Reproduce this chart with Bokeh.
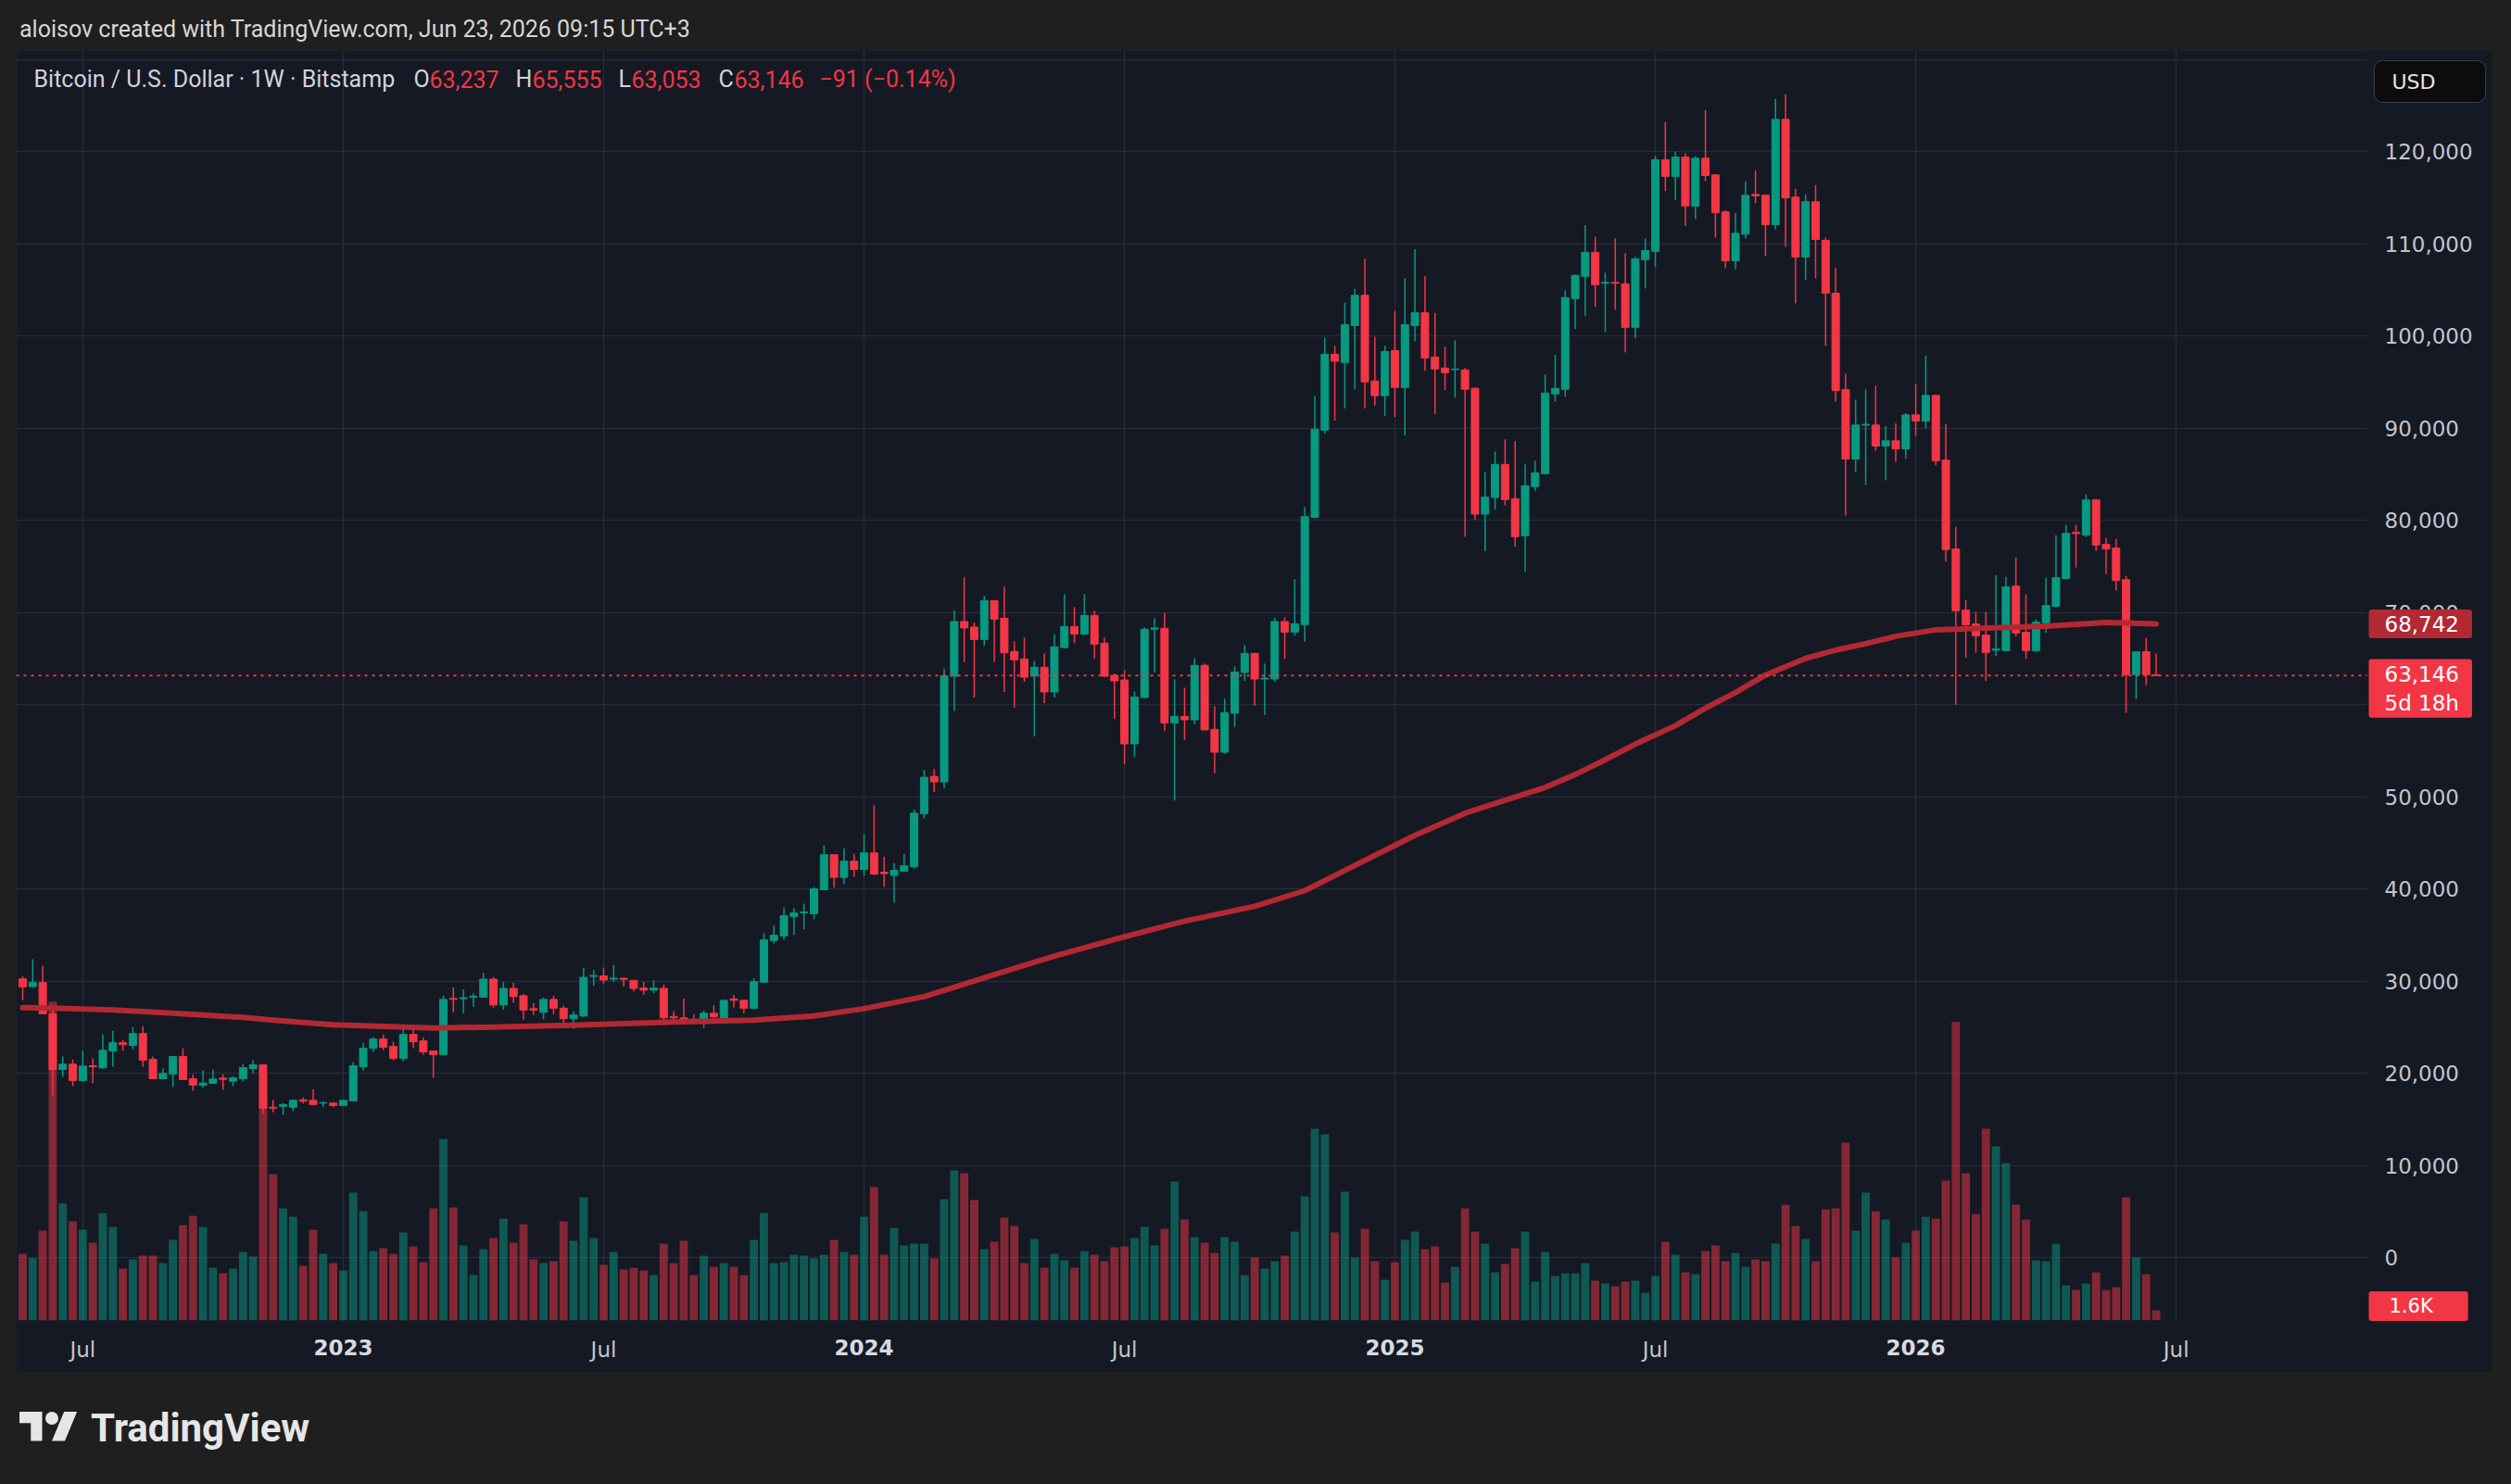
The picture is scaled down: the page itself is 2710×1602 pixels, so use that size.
from bokeh.plotting import figure
from bokeh.models import (ColumnDataSource, Range1d, FixedTicker, NumeralTickFormatter,
                          Label, Div, Spacer, GlobalInlineStyleSheet, BoxAnnotation, LinearAxis)
from bokeh.layouts import column, row
from bokeh.embed import file_html
from bokeh.resources import INLINE

# ---------------- data (BTC/USD weekly, Bitstamp; prices in thousands USD) ----------------
week_start = "2022-05-23"   # Monday of bar 0, one bar per week

open_k = [30.23, 29.40, 29.83, 26.44, 20.40, 20.97, 19.20, 20.80, 20.57, 22.40,
          23.30, 23.00, 24.30, 21.50, 19.40, 19.90, 21.80, 19.40, 18.70, 18.90,
          19.46, 19.13, 19.40, 20.50, 20.90, 16.30, 16.40, 16.30, 17.10, 17.05,
          16.75, 16.75, 16.50, 17.00, 20.70, 22.70, 23.70, 22.90, 21.60, 24.20,
          23.50, 22.40, 22.00, 28.10, 28.09, 28.25, 28.25, 30.20, 27.40, 29.20,
          28.40, 27.00, 26.60, 28.00, 27.05, 25.90, 26.20, 30.50, 30.55, 30.20,
          30.30, 30.07, 29.23, 29.00, 29.20, 26.15, 26.00, 25.85, 25.75, 26.50,
          26.00, 28.05, 27.90, 27.05, 29.87, 34.40, 34.87, 37.00, 37.40, 37.30,
          39.90, 43.70, 41.24, 43.00, 42.10, 43.90, 41.80, 41.45, 41.90, 42.40,
          48.15, 52.20, 51.60, 63.07, 69.00, 68.40, 67.05, 71.27, 69.36, 65.75,
          64.94, 63.07, 64.04, 61.36, 66.18, 68.46, 67.65, 69.66, 66.65, 63.17,
          62.66, 55.73, 60.75, 68.16, 68.26, 58.00, 58.70, 58.34, 64.24, 57.30,
          54.82, 59.05, 63.47, 65.54, 62.76, 62.76, 69.00, 67.85, 68.66, 80.30,
          89.77, 98.00, 97.10, 101.10, 104.40, 95.10, 93.50, 98.40, 94.40, 101.10,
          102.50, 97.70, 96.50, 96.33, 96.30, 94.30, 80.65, 82.46, 86.05, 82.33,
          78.30, 83.64, 85.04, 93.70, 94.19, 104.04, 106.45, 109.06, 105.70, 105.80,
          105.64, 100.92, 108.26, 109.16, 119.10, 117.30, 119.40, 114.07, 119.26, 117.45,
          113.43, 108.14, 111.02, 115.34, 115.24, 112.06, 123.48, 115.04, 108.54, 114.54,
          110.35, 104.62, 94.17, 86.63, 90.30, 90.32, 88.04, 88.61, 87.74, 91.42,
          90.75, 93.53, 86.50, 76.87, 70.24, 68.73, 67.53, 65.89, 65.85, 72.85,
          67.83, 65.85, 68.86, 70.64, 73.65, 78.67, 78.37, 82.19, 77.37, 76.97,
          73.55, 63.24, 65.72, 63.237]

high_k = [30.54, 32.35, 31.64, 26.90, 21.80, 21.48, 22.40, 21.60, 24.20, 24.60,
          23.60, 25.00, 25.10, 21.80, 20.50, 21.85, 22.70, 19.87, 20.30, 20.37,
          19.87, 19.66, 20.97, 21.40, 20.97, 17.10, 16.75, 17.15, 17.35, 18.25,
          16.95, 16.85, 17.10, 21.20, 23.30, 23.90, 24.20, 23.40, 25.20, 25.20,
          23.90, 22.45, 28.40, 29.30, 29.10, 28.70, 30.90, 30.44, 29.90, 29.80,
          28.60, 27.60, 28.20, 28.40, 27.30, 26.70, 31.40, 31.20, 31.45, 31.75,
          30.35, 30.10, 29.90, 30.10, 29.60, 26.70, 28.10, 26.40, 26.80, 27.40,
          28.00, 28.50, 28.00, 30.30, 35.20, 36.00, 38.00, 37.90, 38.40, 40.20,
          44.70, 43.75, 44.40, 43.80, 45.90, 49.06, 43.50, 42.80, 43.80, 48.60,
          52.90, 53.00, 63.90, 70.20, 73.80, 68.90, 71.78, 71.30, 72.80, 66.85,
          67.25, 64.74, 65.54, 67.65, 71.98, 70.57, 71.98, 70.17, 67.25, 63.37,
          63.74, 61.42, 68.36, 69.36, 69.96, 62.73, 61.83, 65.04, 64.44, 59.82,
          60.62, 64.14, 66.45, 65.64, 64.44, 69.36, 69.46, 73.58, 81.40, 93.50,
          99.80, 98.90, 103.60, 105.10, 108.36, 99.90, 98.90, 102.70, 106.25, 109.40,
          106.45, 102.50, 98.80, 99.50, 96.50, 94.40, 85.20, 87.45, 88.76, 88.56,
          86.05, 86.45, 95.80, 97.90, 104.94, 106.65, 111.98, 110.77, 106.85, 110.57,
          108.96, 108.56, 110.57, 119.50, 123.20, 120.00, 119.80, 119.50, 124.49, 117.55,
          113.63, 113.33, 116.75, 117.96, 115.34, 125.70, 126.20, 115.95, 115.34, 116.35,
          110.65, 107.40, 95.88, 93.07, 94.17, 94.57, 90.22, 90.52, 91.62, 94.74,
          97.86, 93.60, 90.42, 79.28, 71.34, 70.04, 70.04, 74.05, 73.85, 75.96,
          71.94, 69.23, 73.75, 78.37, 79.48, 79.48, 82.79, 82.29, 78.07, 77.97,
          73.95, 65.75, 67.22, 65.555]

low_k = [27.92, 29.26, 26.40, 17.60, 19.60, 18.60, 19.05, 18.90, 20.50, 20.70,
         22.40, 22.60, 20.70, 19.35, 19.35, 18.50, 19.25, 18.10, 18.40, 18.85,
         18.20, 18.60, 19.10, 19.97, 15.60, 15.75, 15.44, 15.90, 16.70, 16.55,
         16.30, 16.30, 16.45, 16.95, 20.30, 22.30, 22.50, 21.40, 21.30, 22.70,
         22.00, 19.50, 21.90, 26.60, 26.50, 27.20, 28.20, 27.10, 26.90, 27.65,
         25.80, 26.30, 25.85, 26.40, 25.40, 24.80, 26.10, 29.50, 29.70, 29.90,
         29.40, 28.86, 28.50, 28.66, 25.20, 25.80, 25.30, 25.40, 24.90, 26.00,
         25.90, 27.10, 26.50, 26.90, 29.80, 34.06, 34.46, 35.00, 35.60, 36.70,
         39.90, 40.13, 40.50, 41.30, 41.40, 41.50, 40.20, 38.50, 41.80, 42.20,
         47.65, 50.50, 50.90, 59.30, 64.60, 60.75, 66.40, 64.60, 61.36, 59.65,
         62.46, 56.53, 60.15, 60.75, 66.08, 66.65, 67.55, 64.94, 63.00, 58.44,
         53.52, 54.32, 60.65, 63.47, 57.14, 49.56, 56.13, 57.84, 57.20, 52.51,
         54.62, 57.54, 62.56, 59.85, 58.84, 62.46, 64.94, 67.45, 66.80, 80.20,
         89.40, 90.80, 92.10, 94.20, 92.10, 92.40, 91.30, 91.20, 89.20, 99.40,
         96.20, 91.50, 94.10, 93.30, 78.20, 80.05, 76.60, 81.15, 81.60, 77.10,
         74.40, 83.13, 85.00, 92.88, 93.38, 100.72, 102.13, 103.13, 100.42, 102.83,
         98.20, 99.72, 105.14, 107.45, 115.70, 114.70, 111.90, 112.66, 116.78, 110.65,
         107.34, 107.24, 110.55, 114.37, 108.64, 111.56, 109.65, 103.52, 106.03, 106.23,
         98.89, 92.86, 80.50, 85.23, 83.82, 87.54, 84.32, 86.33, 86.63, 89.15,
         89.95, 85.93, 75.49, 59.93, 65.05, 65.62, 62.54, 65.25, 65.80, 67.36,
         64.95, 65.65, 67.76, 70.54, 73.60, 74.86, 78.17, 76.67, 74.15, 72.35,
         59.09, 60.60, 62.10, 63.053]

close_k = [29.36, 29.83, 26.44, 20.40, 20.97, 19.20, 20.77, 20.70, 22.48, 23.30,
           23.10, 24.30, 21.40, 19.40, 19.97, 21.80, 19.30, 18.70, 18.93, 19.36,
           19.33, 19.50, 20.60, 20.90, 16.20, 16.20, 16.60, 17.05, 16.95, 16.60,
           16.80, 16.50, 17.05, 20.80, 22.70, 23.70, 22.80, 21.60, 24.20, 23.40,
           22.30, 22.00, 28.00, 28.00, 28.19, 28.35, 30.20, 27.40, 29.20, 28.30,
           26.85, 26.85, 28.00, 27.05, 25.90, 26.30, 30.40, 30.60, 30.10, 30.30,
           30.17, 29.20, 29.00, 29.23, 26.00, 26.00, 25.80, 25.75, 26.50, 26.10,
           27.90, 27.90, 27.05, 29.93, 34.46, 34.97, 37.08, 37.40, 37.50, 40.00,
           43.70, 41.24, 43.00, 42.10, 43.90, 41.60, 41.65, 42.00, 42.50, 48.20,
           52.10, 51.60, 63.10, 69.00, 68.30, 67.05, 71.27, 69.26, 65.60, 64.84,
           62.96, 64.04, 61.36, 66.25, 68.46, 67.65, 69.66, 66.55, 63.07, 62.56,
           55.73, 60.82, 68.16, 68.30, 58.00, 58.70, 58.34, 64.24, 57.24, 54.82,
           59.11, 63.53, 65.54, 62.76, 62.86, 69.00, 67.85, 68.76, 80.38, 89.87,
           98.00, 97.24, 101.20, 104.40, 95.00, 93.50, 98.30, 94.40, 101.20, 102.50,
           97.60, 96.40, 96.00, 96.40, 94.20, 80.65, 82.50, 86.05, 82.23, 78.20,
           83.74, 85.14, 93.79, 94.29, 104.14, 106.55, 109.06, 105.54, 105.80, 105.70,
           100.92, 108.36, 109.26, 119.10, 117.30, 119.40, 114.10, 119.26, 117.39, 113.37,
           108.14, 111.12, 115.24, 115.18, 112.06, 123.48, 114.97, 108.54, 114.54, 110.45,
           104.62, 94.07, 86.63, 90.32, 90.40, 88.04, 88.61, 87.74, 91.42, 90.75,
           93.53, 86.43, 76.80, 70.17, 68.66, 67.46, 65.65, 66.02, 72.75, 67.76,
           65.85, 68.93, 70.74, 73.75, 78.57, 78.54, 82.19, 77.30, 76.87, 73.45,
           63.24, 65.72, 63.237, 63.146]

# weekly volume, thousands of BTC
vol_k = [10.75, 10.05, 14.5, 51.6, 18.9, 16.0, 14.65, 12.55, 17.35, 15.1,
         8.35, 9.85, 10.45, 10.45, 9.25, 13.0, 15.4, 16.9, 15.1, 8.5,
         7.6, 8.35, 11.05, 10.3, 36.7, 23.65, 18.1, 16.75, 8.8, 14.65,
         10.75, 9.25, 8.05, 20.65, 17.65, 11.2, 11.65, 10.75, 14.2, 11.95,
         9.4, 18.1, 29.35, 18.25, 12.1, 7.3, 11.5, 13.3, 16.45, 12.55,
         15.55, 9.85, 9.25, 9.55, 16.0, 12.85, 19.9, 13.3, 8.95, 11.05,
         8.2, 8.5, 8.05, 7.3, 12.4, 9.25, 12.85, 7.3, 10.45, 8.65,
         9.25, 8.65, 7.3, 13.0, 17.35, 9.25, 9.4, 10.6, 10.45, 10.0,
         10.6, 13.0, 11.05, 10.6, 16.75, 21.55, 10.6, 14.95, 12.1, 12.4,
         12.4, 10.0, 19.6, 24.25, 23.8, 19.45, 11.5, 12.7, 16.6, 15.25,
         9.25, 13.15, 8.5, 10.75, 9.7, 8.5, 11.2, 10.6, 9.55, 11.8,
         11.95, 13.3, 15.1, 12.1, 14.8, 22.45, 16.3, 13.45, 12.55, 10.9,
         13.45, 12.7, 7.3, 10.15, 8.35, 9.55, 10.45, 14.35, 20.05, 31.0,
         30.1, 14.2, 20.8, 10.15, 14.8, 9.55, 6.55, 9.4, 13.0, 14.35,
         11.5, 11.95, 6.1, 8.65, 18.1, 14.35, 12.4, 7.75, 9.1, 11.65,
         14.35, 6.25, 11.05, 7.15, 7.6, 7.6, 9.25, 6.4, 5.95, 5.5,
         6.25, 6.4, 4.45, 7.15, 12.7, 10.6, 7.75, 7.45, 11.2, 12.1,
         9.55, 10.9, 8.65, 9.85, 9.55, 12.4, 18.7, 15.25, 13.15, 9.55,
         17.95, 18.1, 28.75, 14.5, 20.65, 17.65, 16.3, 10.15, 12.55, 14.5,
         16.75, 16.45, 22.6, 48.3, 23.8, 17.2, 31.0, 28.15, 25.45, 18.7,
         16.3, 9.7, 9.55, 12.4, 5.65, 4.9, 5.95, 7.75, 4.9, 5.35,
         19.9, 10.15, 7.45, 1.6]

# moving average (bar index, thousands USD)
ma_bar = [0, 3, 9, 15, 22, 25, 31, 38, 41, 47, 55, 65, 73, 79, 84, 90, 97, 103, 110, 116,
          123, 128, 132, 139, 144, 148, 152, 155, 158, 161, 165, 168, 171, 174, 178, 181,
          184, 187, 191, 196, 202, 208, 213]
ma_k = [27.1, 27.05, 26.85, 26.5, 26.05, 25.75, 25.25, 25.0, 24.9, 25.0, 25.2, 25.55, 25.75,
        26.2, 27.0, 28.3, 30.7, 32.7, 34.8, 36.5, 38.1, 39.8, 42.0, 45.8, 48.2, 49.6, 51.0,
        52.4, 54.0, 55.7, 57.7, 59.6, 61.3, 63.2, 65.0, 65.9, 66.6, 67.4, 68.1, 68.3, 68.5,
        68.9, 68.742]

month_ticks = [6, 58, 110, 163, 215]
month_labels = ["Jul", "Jul", "Jul", "Jul", "Jul"]
year_ticks = [32, 84, 137, 189]
year_labels = ["2023", "2024", "2025", "2026"]
price_ticks = list(range(0, 130000, 10000))
grid_ticks = list(range(0, 140000, 10000))
volume_label = "1.6K"
countdown = "5d 18h"

# ---------------- styling ----------------
UP, DOWN = "#089981", "#f23645"
BG, GRID = "#151924", "#272b37"
TXT, AXT = "#d1d4dc", "#c3c5cb"
MA_COL = "#b22833"

# page-pixel calibration of the reference layout
FR_L, AX_L, FR_R, FR_T, FR_B, PANEL_B = 17, 2554, 2689, 54, 1426, 1481
BAR0_PX, BAR_PX = 24.0, 10.81
PRICE0_PY, PX_PER_USD = 1357.0, 0.00995
VOL0_PY, VOLK_PER_PX = 1424.7, 0.15

def xd(px):
    return (px - BAR0_PX) / BAR_PX

def yd(py):
    return (PRICE0_PY - py) / PX_PER_USD

def vd(py):
    return (VOL0_PY - py) * VOLK_PER_PX

n = len(close_k)
xs = list(range(n))
O = [v * 1000 for v in open_k]
H = [v * 1000 for v in high_k]
L = [v * 1000 for v in low_k]
C = [v * 1000 for v in close_k]
up = [c >= o for o, c in zip(O, C)]
src = ColumnDataSource(dict(
    x=xs, o=O, h=H, l=L, c=C,
    top=[max(o, c) for o, c in zip(O, C)],
    bot=[min(o, c) for o, c in zip(O, C)],
    col=[UP if u else DOWN for u in up],
    vol=vol_k,
))

p = figure(width=FR_R - FR_L, height=PANEL_B - FR_T,
           x_range=Range1d(xd(FR_L), xd(FR_R)), y_range=Range1d(yd(PANEL_B), yd(FR_T)),
           y_axis_location="right", output_backend="svg", toolbar_location=None,
           title=None, min_border_left=0, min_border_top=0,
           min_border_right=0, min_border_bottom=0)
p.extra_y_ranges = {"vol": Range1d(vd(PANEL_B), vd(FR_T))}
p.background_fill_color = BG
p.border_fill_color = BG
p.outline_line_color = None
p.styles = {"outline": "1px solid #2c2f38", "outline-offset": "-1px"}

p.xgrid.ticker = FixedTicker(ticks=sorted(month_ticks + year_ticks))
p.ygrid.ticker = FixedTicker(ticks=grid_ticks)
p.grid.grid_line_color = GRID
p.grid.grid_line_width = 1.5

# price-scale column and time-scale strip: no grid there
p.add_layout(BoxAnnotation(left=xd(AX_L), fill_color=BG, fill_alpha=1.0, line_color=None,
                           level="underlay"))
p.add_layout(BoxAnnotation(top=yd(FR_B), fill_color=BG, fill_alpha=1.0, line_color=None,
                           level="underlay"))

# candles
p.segment(x0="x", y0="l", x1="x", y1="h", line_color="col", line_width=1.5, source=src)
p.vbar(x="x", width=0.74, top="top", bottom="bot", fill_color="col", line_color="col",
       line_width=1, source=src)
# volume overlay
p.vbar(x="x", width=0.82, top="vol", bottom=0, fill_color="col", fill_alpha=0.5,
       line_color=None, y_range_name="vol", source=src)
# moving average
p.line(ma_bar, [v * 1000 for v in ma_k], line_color=MA_COL, line_width=6,
       line_join="round", line_cap="round")
# current price line (dotted, across the pane only)
p.segment(x0=[xd(FR_L)], x1=[xd(AX_L)], y0=[C[-1]], y1=[C[-1]], line_color=DOWN,
          line_width=2, line_dash="3 5")

# price axis, drawn at the left edge of the price-scale column
yax = p.yaxis[0]
yax.fixed_location = xd(AX_L)
yax.ticker = FixedTicker(ticks=price_ticks)
yax.formatter = NumeralTickFormatter(format="0,0")
yax.axis_line_color = None
yax.major_tick_line_color = None
yax.minor_tick_line_color = None
yax.major_tick_out = 0
yax.major_tick_in = 0
yax.major_label_standoff = 19
yax.major_label_text_font = "DejaVu Sans"
yax.major_label_text_font_size = "23px"
yax.major_label_text_color = AXT

# time axis: months (regular) and years (bold), both drawn at the pane bottom
xax = p.xaxis[0]
xax.fixed_location = yd(FR_B)
xax.ticker = FixedTicker(ticks=month_ticks)
xax.major_label_overrides = {t: s for t, s in zip(month_ticks, month_labels)}
xax.axis_line_color = None
xax.major_tick_line_color = None
xax.minor_tick_line_color = None
xax.major_tick_out = 0
xax.major_tick_in = 0
xax.major_label_standoff = 17
xax.major_label_text_font = "DejaVu Sans"
xax.major_label_text_font_size = "23px"
xax.major_label_text_color = AXT

yr_ax = LinearAxis(fixed_location=yd(FR_B), ticker=FixedTicker(ticks=year_ticks),
                   major_label_overrides={t: s for t, s in zip(year_ticks, year_labels)},
                   axis_line_color=None, major_tick_line_color=None, minor_tick_line_color=None,
                   major_tick_out=0, major_tick_in=0, major_label_standoff=19,
                   major_label_text_font="DejaVu Sans", major_label_text_font_size="23px",
                   major_label_text_font_style="bold", major_label_text_color="#d8dae0")
p.add_layout(yr_ax, "below")


def make_label(**kw):
    try:
        return Label(**kw)
    except Exception:
        kw.pop("border_radius", None)
        if isinstance(kw.get("padding"), dict):
            kw["padding"] = kw["padding"]["left"]
        try:
            return Label(**kw)
        except Exception:
            kw.pop("padding", None)
            return Label(**kw)


# legend line inside the pane
chg = C[-1] - C[-2]
pct = chg / C[-2] * 100
def fmt(v):
    return f"{v:,.0f}"
def sgn(s):
    return s.replace("-", "\u2212")
legend = [
    ("Bitcoin / U.S. Dollar \u00b7 1W \u00b7 Bitstamp", 36, TXT),
    ("O", 446, TXT), (fmt(O[-1]), 463, DOWN),
    ("H", 556, TXT), (fmt(H[-1]), 574, DOWN),
    ("L", 667, TXT), (fmt(L[-1]), 681, DOWN),
    ("C", 775, TXT), (fmt(C[-1]), 792, DOWN),
    (sgn(f"{chg:,.0f} ({pct:.2f}%)"), 884, DOWN),
]
for txt, px, col in legend:
    p.add_layout(Label(x=xd(px), y=yd(85), text=txt, text_color=col, text_font="Roboto",
                       text_font_size="25px", text_align="left", text_baseline="middle"))

# price-scale boxes (x is the left edge of each box)
BOX_L = 2556
p.add_layout(make_label(x=xd(BOX_L), y=ma_k[-1] * 1000, text=fmt(ma_k[-1] * 1000),
                        text_color="#ffffff", text_font="DejaVu Sans", text_font_size="23px",
                        text_align="left", text_baseline="middle",
                        background_fill_color=MA_COL,
                        padding=dict(left=17, right=14, top=7, bottom=7), border_radius=3))
p.add_layout(make_label(x=xd(BOX_L), y=yd(742.6), text=fmt(C[-1]) + "\n" + countdown,
                        text_color="#ffffff", text_font="DejaVu Sans", text_font_size="23px",
                        text_align="left", text_baseline="middle", text_line_height=1.2,
                        background_fill_color=DOWN,
                        padding=dict(left=17, right=14, top=3, bottom=3), border_radius=3))
p.add_layout(make_label(x=xd(BOX_L), y=yd(1409.5), text=volume_label,
                        text_color="#ffffff", text_font="DejaVu Sans", text_font_size="21px",
                        text_align="left", text_baseline="middle",
                        background_fill_color=DOWN,
                        padding=dict(left=22, right=38, top=4, bottom=4), border_radius=3))
p.add_layout(make_label(x=xd(2562), y=yd(87.5), text="USD",
                        text_color="#e6e6e6", text_font="DejaVu Sans", text_font_size="22px",
                        text_align="left", text_baseline="middle",
                        background_fill_color="#0c0c0c", border_line_color="#3a3d45",
                        border_line_width=1,
                        padding=dict(left=19, right=54, top=10, bottom=10), border_radius=9))

# ---------------- page furniture ----------------
top_html = ('<div style="position:relative;width:2710px;height:54px;">'
            '<span style="position:absolute;left:21px;top:19px;font-family:Roboto;'
            'font-size:25px;line-height:25px;color:#d6d6d6;white-space:nowrap;">'
            'aloisov created with TradingView.com, Jun 23, 2026 09:15 UTC+3</span></div>')
bot_html = ('<div style="position:relative;width:2710px;height:121px;">'
            '<svg style="position:absolute;left:21px;top:36px" width="63" height="49" '
            'viewBox="0 0 36 28"><path fill="#e6e6e6" d="M14 22H7V11H0V4h14v18zM28 22h-8l7.5-18h8L28 22z"/>'
            '<circle fill="#e6e6e6" cx="20" cy="8" r="4"/></svg>'
            '<span style="position:absolute;left:98px;top:40px;font-family:Roboto;font-weight:700;'
            'font-size:42px;line-height:42px;color:#e6e6e6;white-space:nowrap;">TradingView</span></div>')

top = Div(text=top_html, width=2710, height=FR_T, margin=0)
bot = Div(text=bot_html, width=2710, height=1602 - PANEL_B, margin=0)
mid = row(Spacer(width=FR_L, height=PANEL_B - FR_T, margin=0), p, spacing=0, margin=0)
root = column(top, mid, bot, spacing=0, margin=0)
root.stylesheets = [GlobalInlineStyleSheet(
    css="html, body { background-color: #1f1f1f !important; margin: 0 !important; }")]

open("out.html", "w").write(file_html(root, INLINE))
